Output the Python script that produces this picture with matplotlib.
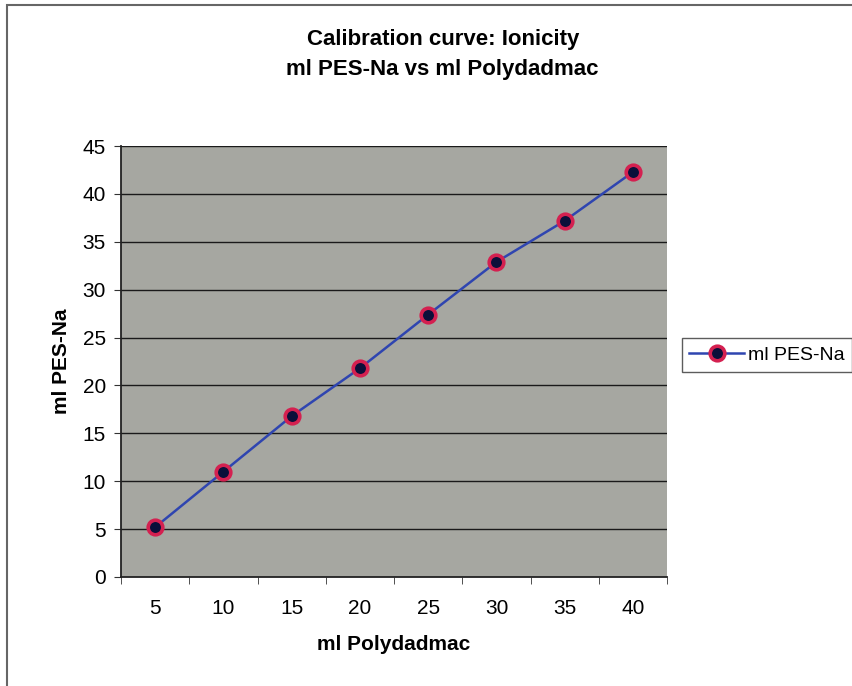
import matplotlib
matplotlib.use('Agg')
import matplotlib.pyplot as plt
from matplotlib.patches import Rectangle
import numpy as np

# data
polydadmac = [5, 10, 15, 20, 25, 30, 35, 40]
pes_na = [5.2, 11.0, 16.8, 21.8, 27.4, 32.9, 37.2, 42.3]

plt.rcParams['font.family'] = ['Liberation Sans', 'DejaVu Sans']

fig = plt.figure(figsize=(8.53, 6.86), dpi=100)
ax = fig.add_axes([0.142, 0.159, 0.640, 0.628])

# outer chart border (runs off the right and bottom edges)
fig.patches.append(Rectangle((0.008, -0.1), 1.2, 1.093, transform=fig.transFigure,
                             fill=False, edgecolor='#666666', linewidth=1.5))

ax.set_facecolor('#a6a7a1')
for y in range(5, 46, 5):
    ax.axhline(y, color='#1a1a1a', linewidth=1.0, zorder=1)

ax.plot(polydadmac, pes_na, color='#2f45b0', linewidth=1.8, marker='o',
        markersize=10.5, markerfacecolor='#0b0f3a', markeredgecolor='#d42050',
        markeredgewidth=2.6, label='ml PES-Na', zorder=3)

ax.set_xlim(2.5, 42.5)
ax.set_ylim(0, 45)
ax.set_xticks(polydadmac)
ax.set_xticks(np.arange(2.5, 43, 5), minor=True)
ax.tick_params(axis='x', which='major', length=0, pad=16, labelsize=15)
ax.tick_params(axis='x', which='minor', length=5, direction='out', color='#333333')
ax.set_yticks(range(0, 46, 5))
ax.tick_params(axis='y', length=5, direction='out', pad=6, labelsize=15, color='#333333')

for side in ['top', 'right']:
    ax.spines[side].set_visible(False)
ax.spines['left'].set_color('#222222')
ax.spines['bottom'].set_color('#222222')
ax.spines['left'].set_linewidth(1.3)
ax.spines['bottom'].set_linewidth(1.3)

ax.set_xlabel('ml Polydadmac', fontsize=15, fontweight='bold', labelpad=12)
ax.set_ylabel('ml PES-Na', fontsize=15, fontweight='bold', labelpad=8)

fig.text(0.519, 0.92, 'Calibration curve: Ionicity\nml PES-Na vs ml Polydadmac',
         ha='center', va='center', fontsize=16, fontweight='bold', linespacing=1.55)

leg = fig.legend(loc='center left', bbox_to_anchor=(0.799, 0.4825), fontsize=14,
                 frameon=True, fancybox=False, edgecolor='#333333', handlelength=2.8,
                 borderpad=0.4, handletextpad=0.2, borderaxespad=0.0)
leg.get_frame().set_linewidth(1.0)

fig.savefig('out.png', dpi=100)
